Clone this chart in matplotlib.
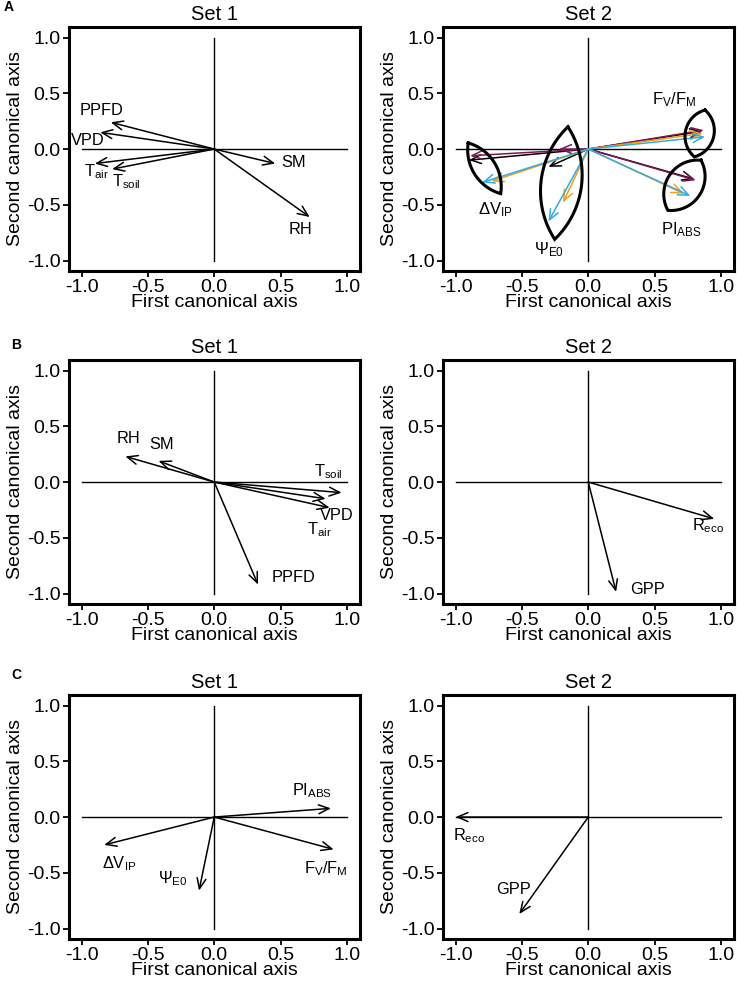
import numpy as np
import matplotlib
matplotlib.use('Agg')
import matplotlib.pyplot as plt

plt.rcParams['font.family'] = ['Liberation Sans', 'DejaVu Sans']
plt.rcParams['mathtext.fontset'] = 'custom'
plt.rcParams['mathtext.rm'] = 'Liberation Sans'
plt.rcParams['mathtext.it'] = 'Liberation Sans:italic'
plt.rcParams['mathtext.bf'] = 'Liberation Sans:bold'

# ---- data (canonical loadings) ----
# panel A, set 1
a1_names = ['PPFD', 'VPD', r'$\mathrm{T_{air}}$', r'$\mathrm{T_{soil}}$', 'SM', 'RH']
a1_x = [-0.78, -0.86, -0.90, -0.77, 0.46, 0.72]
a1_y = [0.24, 0.15, -0.13, -0.18, -0.13, -0.61]

# panel A, set 2 (four series, same variables)
a2_names = [r'$\mathrm{F_V/F_M}$', r'$\mathrm{PI_{ABS}}$', r'$\Delta\mathrm{V_{IP}}$', r'$\Psi_{\mathrm{E0}}$']
a2_black_x = [0.86, 0.80, -0.90, -0.30]
a2_black_y = [0.16, -0.27, -0.10, -0.16]
a2_purple_x = [0.87, 0.81, -0.89, -0.22]
a2_purple_y = [0.17, -0.28, -0.06, 0.00]
a2_orange_x = [0.86, 0.72, -0.73, -0.19]
a2_orange_y = [0.14, -0.40, -0.29, -0.48]
a2_blue_x = [0.88, 0.77, -0.80, -0.30]
a2_blue_y = [0.11, -0.42, -0.30, -0.65]

# lens outlines around each variable group (tip1, tip2, relative sagitta)
a2_lens_tip1 = [(0.88, 0.35), (0.85, -0.10), (-0.905, 0.055), (-0.153, 0.20)]
a2_lens_tip2 = [(0.80, -0.07), (0.60, -0.55), (-0.66, -0.40), (-0.253, -0.81)]
a2_lens_bulge = [0.30, 0.30, 0.19, 0.18]

# panel B
b1_names = ['RH', 'SM', r'$\mathrm{T_{soil}}$', 'VPD', r'$\mathrm{T_{air}}$', 'PPFD']
b1_x = [-0.67, -0.42, 0.96, 0.87, 0.84, 0.33]
b1_y = [0.23, 0.19, -0.095, -0.23, -0.15, -0.92]
b2_names = [r'$\mathrm{R_{eco}}$', 'GPP']
b2_x = [0.95, 0.21]
b2_y = [-0.33, -0.985]

# panel C
c1_names = [r'$\mathrm{PI_{ABS}}$', r'$\mathrm{F_V/F_M}$', r'$\Delta\mathrm{V_{IP}}$', r'$\Psi_{\mathrm{E0}}$']
c1_x = [0.88, 0.90, -0.83, -0.115]
c1_y = [0.078, -0.29, -0.25, -0.66]
c2_names = [r'$\mathrm{R_{eco}}$', 'GPP']
c2_x = [-1.0, -0.52]
c2_y = [0.0, -0.87]

# label positions (centre of each text)
a1_lab = [(-0.85, 0.35), (-0.955, 0.08), (-0.89, -0.20), (-0.66, -0.29), (0.60, -0.12), (0.65, -0.72)]
a2_lab = [(0.65, 0.44), (0.70, -0.72), (-0.70, -0.54), (-0.30, -0.90)]
b1_lab = [(-0.65, 0.39), (-0.40, 0.34), (0.86, 0.09), (0.92, -0.30), (0.79, -0.43), (0.60, -0.86)]
b2_lab = [(0.90, -0.39), (0.45, -0.96)]
c1_lab = [(0.74, 0.24), (0.84, -0.46), (-0.72, -0.42), (-0.31, -0.55)]
c2_lab = [(-0.90, -0.17), (-0.56, -0.65)]

COL_BLACK = 'black'
COL_PURPLE = '#7a1a55'
COL_ORANGE = '#f2a20f'
COL_BLUE = '#35aae2'

W, H = 737, 984
fig = plt.figure(figsize=(W / 100, H / 100), dpi=100)

LEFT_X = [69 / W, 443 / W]
AX_W = 290.5 / W
ROW_TOP = [27, 360, 695]
AX_H = 243.5 / H
LIM = 1.095


def make_axes(col, row, title):
    bottom = 1 - (ROW_TOP[row] / H) - AX_H
    ax = fig.add_axes([LEFT_X[col], bottom, AX_W, AX_H])
    ax.set_xlim(-LIM, LIM)
    ax.set_ylim(-LIM * 0.995, LIM)
    for s in ax.spines.values():
        s.set_linewidth(2.2)
    ax.set_xticks([-1.0, -0.5, 0.0, 0.5, 1.0])
    ax.set_yticks([-1.0, -0.5, 0.0, 0.5, 1.0])
    ax.set_xticklabels(['-1.0', '-0.5', '0.0', '0.5', '1.0'])
    ax.set_yticklabels(['-1.0', '-0.5', '0.0', '0.5', '1.0'])
    ax.tick_params(direction='out', length=4, width=1.3, labelsize=14, pad=2)
    ax.set_xlabel('First canonical axis', fontsize=14, labelpad=-1)
    ax.set_ylabel('Second canonical axis', fontsize=14, labelpad=2)
    ax.set_title(title, fontsize=14.5, pad=5)
    ax.plot([-1, 1], [0, 0], color='black', lw=1.0, zorder=1)
    ax.plot([0, 0], [-1, 1], color='black', lw=1.0, zorder=1)
    return ax


def arrows(ax, xs, ys, color='black', lw=1.1):
    for x, y in zip(xs, ys):
        ax.annotate('', xy=(x, y), xytext=(0, 0),
                    arrowprops=dict(arrowstyle='->,head_length=0.75,head_width=0.32',
                                    color=color, lw=lw, shrinkA=0, shrinkB=0,
                                    mutation_scale=10), zorder=3)


def labels(ax, names, pos, size=11.8):
    for name, (x, y) in zip(names, pos):
        ax.text(x, y, name, fontsize=size, ha='center', va='center', zorder=4)


def lens(ax, p1, p2, bulge):
    # two circular arcs between the tips, built in pixel-like units
    sx = AX_W * W / (2 * LIM)
    sy = AX_H * H / (2 * LIM)
    a = np.array([p1[0] * sx, p1[1] * sy])
    b = np.array([p2[0] * sx, p2[1] * sy])
    d = b - a
    c = np.hypot(*d)
    n = np.array([-d[1], d[0]]) / c
    s = bulge * c
    R = (c * c / 4 + s * s) / (2 * s)
    t = np.linspace(0, 1, 80)
    xc = (t - 0.5) * c
    h = np.sqrt(np.maximum(R * R - xc * xc, 0)) - (R - s)
    side1 = a + np.outer(t, d) + np.outer(h, n)
    side2 = a + np.outer(t, d) - np.outer(h, n)
    pts = np.vstack([side1, side2[::-1]])
    ax.plot(pts[:, 0] / sx, pts[:, 1] / sy, color='black', lw=2.2, zorder=5,
            solid_joinstyle='miter')


# ---- A ----
ax = make_axes(0, 0, 'Set 1')
arrows(ax, a1_x, a1_y)
labels(ax, a1_names, a1_lab)

ax = make_axes(1, 0, 'Set 2')
arrows(ax, a2_black_x, a2_black_y, COL_BLACK)
arrows(ax, a2_purple_x, a2_purple_y, COL_PURPLE)
arrows(ax, a2_orange_x, a2_orange_y, COL_ORANGE)
arrows(ax, a2_blue_x, a2_blue_y, COL_BLUE)
for t1, t2, bl in zip(a2_lens_tip1, a2_lens_tip2, a2_lens_bulge):
    lens(ax, t1, t2, bl)
labels(ax, a2_names, a2_lab, size=12)

# ---- B ----
ax = make_axes(0, 1, 'Set 1')
arrows(ax, b1_x, b1_y)
labels(ax, b1_names, b1_lab)

ax = make_axes(1, 1, 'Set 2')
arrows(ax, b2_x, b2_y)
labels(ax, b2_names, b2_lab)

# ---- C ----
ax = make_axes(0, 2, 'Set 1')
arrows(ax, c1_x, c1_y)
labels(ax, c1_names, c1_lab)

ax = make_axes(1, 2, 'Set 2')
arrows(ax, c2_x, c2_y)
labels(ax, c2_names, c2_lab)

# panel letters
fig.text(4 / W, 1 - 7 / H, 'A', fontsize=10, fontweight='bold', ha='left', va='center')
fig.text(11 / W, 1 - 345 / H, 'B', fontsize=10, fontweight='bold', ha='left', va='center')
fig.text(11 / W, 1 - 675 / H, 'C', fontsize=10, fontweight='bold', ha='left', va='center')

fig.savefig('out.png', dpi=100)
